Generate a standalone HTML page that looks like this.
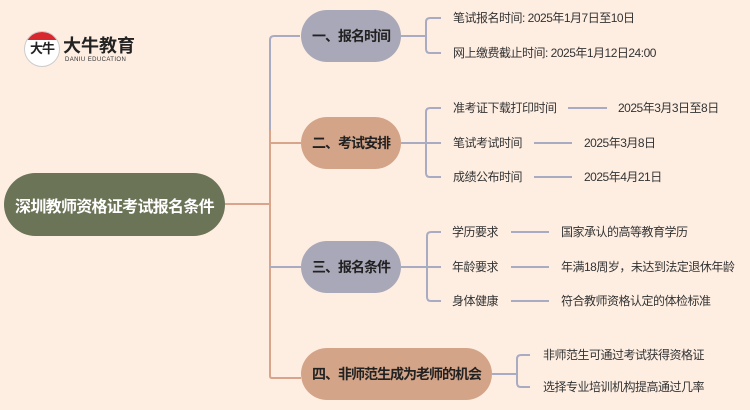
<!DOCTYPE html>
<html><head><meta charset="utf-8"><style>
body{margin:0;width:750px;height:410px;background:#feeee2;overflow:hidden;font-family:"Liberation Sans","Noto Sans CJK SC",sans-serif}
svg{position:absolute;left:0;top:0}
.n{position:absolute;display:flex;align-items:center;justify-content:center;font-weight:bold;font-size:14px;letter-spacing:-1px;color:#222;border-radius:26px;white-space:nowrap}
.t{position:absolute;font-size:12px;letter-spacing:-0.5px;color:#333;line-height:16px;white-space:nowrap}
</style></head><body>
<svg width="750" height="410" fill="none" stroke-width="2">
<path d="M225 204H270" stroke="#d9a48c"/>
<path d="M270 130V376Q270 378 272 378H301M270 143H301" stroke="#d9a48c"/>
<path d="M300 36H274Q270 36 270 40V130M270 267H301" stroke="#a9abc3"/>
<path d="M401 36H426M441 18H430Q426 18 426 22V49Q426 53 430 53H441" stroke="#a9abc3"/>
<path d="M401 143H441M441 108H430Q426 108 426 112V173Q426 177 430 177H441M568 108H607M534 143H572M534 177H572" stroke="#a9abc3"/>
<path d="M401 267H441M441 232H431Q427 232 427 236V297Q427 301 431 301H441M511 232H549M511 267H549M511 301H549" stroke="#a9abc3"/>
<path d="M492 374H517M530 355H521Q517 355 517 359V383Q517 387 521 387H530" stroke="#a9abc3"/>
</svg>
<div style="position:absolute;left:24px;top:31px;width:34px;height:34px;border-radius:50%;background:#fff;border:1px solid #ccc;overflow:hidden"><div style="height:8px;background:#d8282d"></div><div style="font-size:13px;font-weight:bold;color:#222;text-align:center;line-height:18px;letter-spacing:-1px">大牛</div></div>
<div style="position:absolute;left:63px;top:35px;font-size:18px;line-height:22px;font-weight:bold;color:#222">大牛教育</div>
<div style="position:absolute;left:65px;top:57px;font-size:6px;line-height:7px;color:#333;letter-spacing:0.4px">DANIU EDUCATION</div>
<div class="n" style="left:4px;top:173px;width:221px;height:63px;background:#6b7457;color:#fff;border-radius:32px;font-size:16px;letter-spacing:-0.7px">深圳教师资格证考试报名条件</div>
<div class="n" style="left:301px;top:10px;width:100px;height:52px;background:#a9a8b8">一、报名时间</div>
<div class="n" style="left:301px;top:117px;width:100px;height:52px;background:#d4a488">二、考试安排</div>
<div class="n" style="left:301px;top:241px;width:100px;height:52px;background:#a9a8b8">三、报名条件</div>
<div class="n" style="left:301px;top:348px;width:191px;height:52px;background:#d4a488">四、非师范生成为老师的机会</div>
<div class="t" style="left:453px;top:10px">笔试报名时间: 2025年1月7日至10日</div>
<div class="t" style="left:453px;top:45px">网上缴费截止时间: 2025年1月12日24:00</div>
<div class="t" style="left:453px;top:100px">准考证下载打印时间</div>
<div class="t" style="left:618px;top:100px">2025年3月3日至8日</div>
<div class="t" style="left:453px;top:135px">笔试考试时间</div>
<div class="t" style="left:584px;top:135px">2025年3月8日</div>
<div class="t" style="left:453px;top:169px">成绩公布时间</div>
<div class="t" style="left:584px;top:169px">2025年4月21日</div>
<div class="t" style="left:452px;top:224px">学历要求</div>
<div class="t" style="left:561px;top:224px">国家承认的高等教育学历</div>
<div class="t" style="left:452px;top:259px">年龄要求</div>
<div class="t" style="left:561px;top:259px">年满18周岁，未达到法定退休年龄</div>
<div class="t" style="left:452px;top:293px">身体健康</div>
<div class="t" style="left:561px;top:293px">符合教师资格认定的体检标准</div>
<div class="t" style="left:543px;top:347px">非师范生可通过考试获得资格证</div>
<div class="t" style="left:543px;top:379px">选择专业培训机构提高通过几率</div>
</body></html>
